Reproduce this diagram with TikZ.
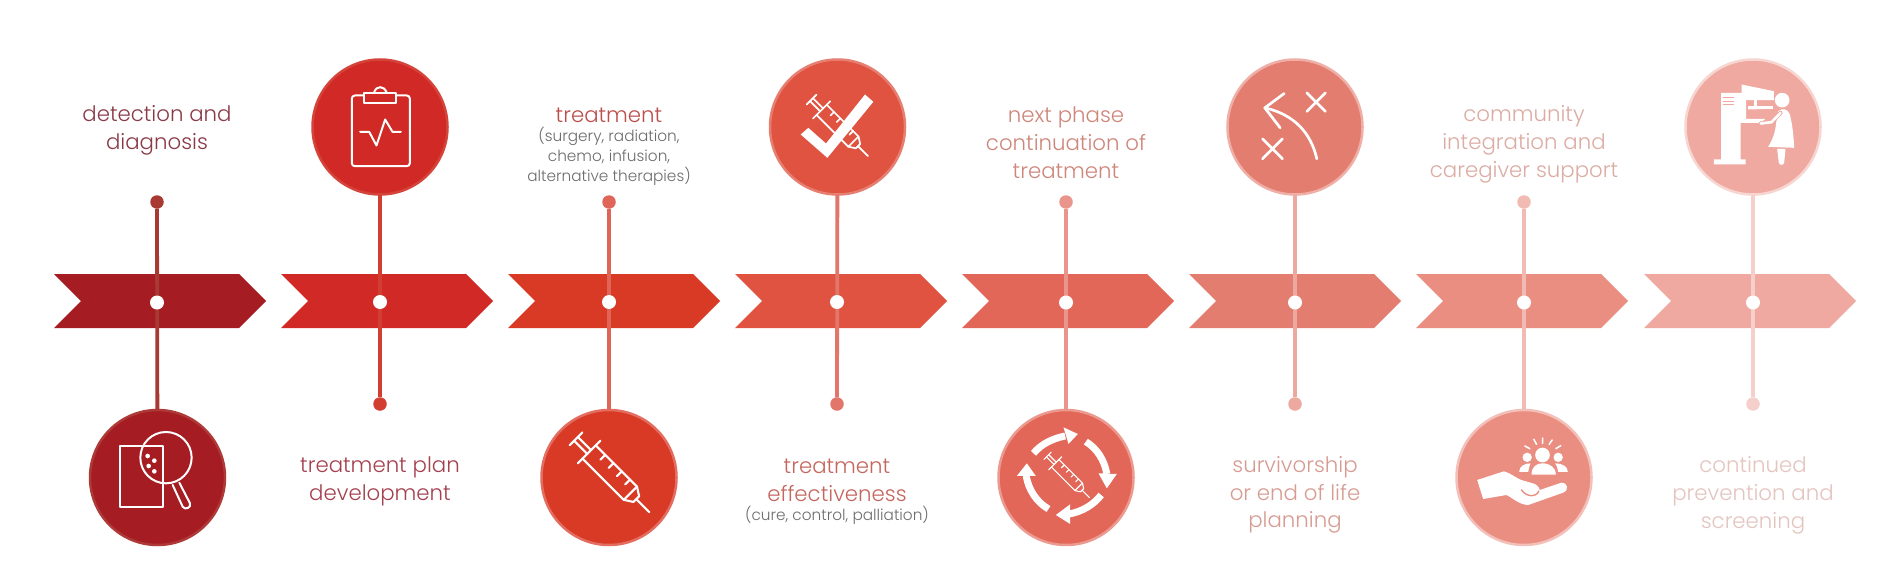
\documentclass[tikz,border=0pt]{standalone}
\usepackage{fontspec}
\setmainfont{Poppins}[UprightFont=* Light]
\definecolor{subgray}{HTML}{6C6C6C}
\definecolor{fillA}{HTML}{A51C22}\definecolor{ringA}{HTML}{AE3A38}\definecolor{lineA}{HTML}{A83A34}\definecolor{textA}{HTML}{8A3A47}
\definecolor{fillB}{HTML}{D12A26}\definecolor{ringB}{HTML}{D4443A}\definecolor{lineB}{HTML}{D23E32}\definecolor{textB}{HTML}{A5404E}
\definecolor{fillC}{HTML}{D83A26}\definecolor{ringC}{HTML}{E26D60}\definecolor{lineC}{HTML}{DE6558}\definecolor{textC}{HTML}{BC4E4B}
\definecolor{fillD}{HTML}{DF5340}\definecolor{ringD}{HTML}{E67F72}\definecolor{lineD}{HTML}{E2766A}\definecolor{textD}{HTML}{C5665E}
\definecolor{fillE}{HTML}{E26758}\definecolor{ringE}{HTML}{EC9A90}\definecolor{lineE}{HTML}{E9958B}\definecolor{textE}{HTML}{CE867A}
\definecolor{fillF}{HTML}{E37D70}\definecolor{ringF}{HTML}{EFAFA7}\definecolor{lineF}{HTML}{EDA89F}\definecolor{textF}{HTML}{D79B92}
\definecolor{fillG}{HTML}{EA8E82}\definecolor{ringG}{HTML}{F3C0B9}\definecolor{lineG}{HTML}{F1BAB3}\definecolor{textG}{HTML}{DCACA4}
\definecolor{fillH}{HTML}{EFA9A1}\definecolor{ringH}{HTML}{F7D5D1}\definecolor{lineH}{HTML}{F5CFCA}\definecolor{textH}{HTML}{E4C4BF}
\tikzset{x=1pt,y=-1pt,
  chevron/.style={fill=#1,draw=none},
  stem/.style={draw=#1,line width=3.8pt},
  enddot/.style={circle,fill=#1,draw=none,minimum size=13.5pt,inner sep=0pt,outer sep=0pt},
  hub/.style={circle,fill=white,draw=none,minimum size=14pt,inner sep=0pt,outer sep=0pt},
  disc/.style 2 args={circle,fill=#1,draw=#2,line width=2.5pt,minimum size=135pt,inner sep=0pt,outer sep=0pt},
  title/.style={text=#1,align=center,font=\fontsize{21.3}{27.8}\selectfont},
  subtitle/.style={text=subgray,align=center,font=\fontsize{15.3}{20}\selectfont},
  ico/.style={draw=white,line width=2pt,line cap=round,line join=round}}
% chevron: left x, colour
\newcommand{\Chev}[2]{%
  \fill[chevron=#2] (#1,274) -- ++(185,0) -- ++(27,27) -- ++(-27,27) -- ++(-185,0) -- ++(27,-27) -- cycle;}
% syringe: ox, oy, scale, line width
\newcommand{\Syr}[4]{%
  \begin{scope}[shift={(#1,#2)},rotate=-45,scale=#3,line width=#4,line cap=round,line join=round]
    \draw[white] (0,-48) -- (0,48);
    \draw[white] (0,-28) -- (175,-28) -- (200,-12) -- (200,12) -- (175,28) -- (0,28);
    \draw[white] (175,-28) -- (175,28);
    \draw[white] (200,0) -- (255,0);
    \draw[white] (-56,-8) -- (0,-8) (-56,8) -- (0,8) (-56,-27) -- (-56,27);
    \foreach \u in {40,75,110,145} \draw[white] (\u,-28) -- (\u,-8);
  \end{scope}}
\begin{document}
\begin{tikzpicture}
\useasboundingbox (0,0) rectangle (1900,575);
\fill[white] (0,0) rectangle (1900,575);
% ---------- chevrons
\Chev{54}{fillA}
\Chev{281}{fillB}
\Chev{508}{fillC}
\Chev{735}{fillD}
\Chev{962}{fillE}
\Chev{1189}{fillF}
\Chev{1416}{fillG}
\Chev{1644}{fillH}
% ---------- discs and end dots
\node[disc={fillA}{ringA}] (d1) at (157.5,477.5) {};
\node[disc={fillB}{ringB}] (d2) at (380,127) {};
\node[disc={fillC}{ringC}] (d3) at (609,477.5) {};
\node[disc={fillD}{ringD}] (d4) at (837.5,127) {};
\node[disc={fillE}{ringE}] (d5) at (1066,477.5) {};
\node[disc={fillF}{ringF}] (d6) at (1295,127) {};
\node[disc={fillG}{ringG}] (d7) at (1524,477.5) {};
\node[disc={fillH}{ringH}] (d8) at (1753,127) {};
\node[enddot=lineA] (e1) at (157,202) {};
\node[enddot=lineB] (e2) at (380,404) {};
\node[enddot=lineC] (e3) at (609,202) {};
\node[enddot=lineD] (e4) at (837,404) {};
\node[enddot=lineE] (e5) at (1066,202) {};
\node[enddot=lineF] (e6) at (1295,404) {};
\node[enddot=lineG] (e7) at (1524,202) {};
\node[enddot=lineH] (e8) at (1753,404) {};
% ---------- stems
\draw[stem=lineA] (e1) -- (d1);
\draw[stem=lineB] (e2) -- (d2);
\draw[stem=lineC] (e3) -- (d3);
\draw[stem=lineD] (e4) -- (d4);
\draw[stem=lineE] (e5) -- (d5);
\draw[stem=lineF] (e6) -- (d6);
\draw[stem=lineG] (e7) -- (d7);
\draw[stem=lineH] (e8) -- (d8);
% ---------- hubs
\node[hub] (h1) at (157,302.5) {};
\node[hub] (h2) at (380,302) {};
\node[hub] (h3) at (609,302) {};
\node[hub] (h4) at (837,302) {};
\node[hub] (h5) at (1066,302.5) {};
\node[hub] (h6) at (1295,302.5) {};
\node[hub] (h7) at (1524,302.5) {};
\node[hub] (h8) at (1753,302.5) {};
% ---------- labels
\node[title=textA] (t1) at (157,130) {detection and\\diagnosis};
\node[title=textB] (t2) at (380,481.5) {treatment plan\\development};
\node[title=textC] (t3) at (609,115) {treatment};
\node[subtitle] (s3) at (609,156.5) {(surgery, radiation,\\chemo, infusion,\\alternative therapies)};
\node[title=textD] (t4) at (837,480) {treatment\\effectiveness};
\node[subtitle] (s4) at (837,515) {(cure, control, palliation)};
\node[title=textE] (t5) at (1066,143) {next phase\\continuation of\\treatment};
\node[title=textF] (t6) at (1295,495) {survivorship\\or end of life\\planning};
\node[title=textG] (t7) at (1524,144.5) {community\\integration and\\caregiver support};
\node[title=textH] (t8) at (1753,495.5) {continued\\prevention and\\screening};
% ---------- icon 1: magnifier on a sheet
\begin{scope}[shift={(90,410)},x=0.3333pt,y=-0.3333pt]
  \draw[ico] (90,108) rectangle (220,292);
  \draw[ico] (228,143) circle[radius=77];
  \draw[ico] (248,225) -- (278,290) .. controls (284,302) and (306,292) .. (300,280) -- (268,218);
  \foreach \p/\q in {173/138,193/152,176/168,193/184} \fill[white] (\p,\q) circle[radius=7];
\end{scope}
% ---------- icon 2: clipboard
\begin{scope}[shift={(312.5,59.5)},x=0.3333pt,y=-0.3333pt]
  \draw[ico,rounded corners=3pt] (118,108) rectangle (292,320);
  \draw[ico,fill=fillB] (155,100) rectangle (252,130);
  \draw[ico] (185,98) .. controls (192,78) and (214,78) .. (222,98);
  \draw[ico] (143,217) -- (170,217) -- (192,258) -- (218,180) -- (240,217) -- (265,217);
\end{scope}
% ---------- icon 3: syringe
\begin{scope}[shift={(541.5,410)},x=0.3333pt,y=-0.3333pt]
  \Syr{143}{126}{1}{2.1pt}
\end{scope}
% ---------- icon 4: syringe and tick
\begin{scope}[shift={(770,59.5)},x=0.3333pt,y=-0.3333pt]
  \Syr{155}{151}{0.77}{1.7pt}
  \fill[white] (92,225) -- (115,205) -- (168,252) -- (285,105) -- (310,127) -- (172,295) -- cycle;
\end{scope}
% ---------- icon 5: syringe in a cycle of arrows
\begin{scope}[shift={(998.5,410)},x=0.3333pt,y=-0.3333pt]
  \Syr{170}{160}{0.57}{1.1pt}
  \draw[white,line width=7pt] (105,130) .. controls (130,100) and (165,85) .. (200,78);
  \draw[white,line width=7pt] (262,95) .. controls (295,115) and (318,150) .. (325,192);
  \draw[white,line width=7pt] (308,255) .. controls (285,285) and (250,305) .. (212,312);
  \draw[white,line width=7pt] (150,297) .. controls (115,277) and (90,240) .. (83,197);
  \fill[white] (195,52) -- (238,72) -- (210,102) -- cycle;
  \fill[white] (300,190) -- (355,192) -- (325,235) -- cycle;
  \fill[white] (215,283) -- (172,315) -- (215,342) -- cycle;
  \fill[white] (55,198) -- (85,160) -- (112,198) -- cycle;
\end{scope}
% ---------- icon 6: play diagram
\begin{scope}[shift={(1227.5,59.5)},x=0.3333pt,y=-0.3333pt]
  \draw[ico,line width=2.7pt] (268,298) .. controls (250,220) and (200,165) .. (112,145);
  \draw[ico,line width=2.7pt] (170,102) -- (112,145) -- (158,205);
  \draw[ico,line width=2.7pt] (238,156) -- (294,100) (238,100) -- (294,156);
  \draw[ico,line width=2.7pt] (105,298) -- (165,238) (105,238) -- (165,298);
\end{scope}
% ---------- icon 7: hand holding people
\begin{scope}[shift={(1456.5,410)},x=0.3333pt,y=-0.3333pt]
  \fill[white] (62,210) -- (142,184) .. controls (165,190) and (185,210) .. (205,213)
     -- (235,222) .. controls (245,228) and (250,235) .. (250,240)
     -- (315,218) .. controls (332,216) and (340,240) .. (320,248)
     -- (215,285) .. controls (190,285) and (165,262) .. (150,255) -- (80,267) -- cycle;
  \draw[draw=fillG,line width=1.4pt,line cap=round] (195,240) .. controls (210,262) and (240,262) .. (247,243);
  \fill[white] (258,135) circle[radius=22];
  \fill[white] (225,194) .. controls (225,170) and (240,160) .. (258,160) .. controls (280,160) and (298,172) .. (298,194) -- cycle;
  \fill[white] (212,142) circle[radius=14];
  \fill[white] (188,186) .. controls (188,168) and (205,160) .. (222,160) -- (218,172) -- (215,186) -- cycle;
  \fill[white] (305,142) circle[radius=14];
  \fill[white] (334,186) .. controls (334,168) and (315,160) .. (296,160) -- (302,172) -- (305,186) -- cycle;
  \draw[ico,line width=1.5pt] (205,108) -- (220,116) (232,88) -- (240,103) (258,84) -- (258,100) (287,90) -- (278,103) (313,107) -- (298,116);
\end{scope}
% ---------- icon 8: mammography machine
\begin{scope}[shift={(1685.5,59.5)},x=0.3333pt,y=-0.3333pt]
  \fill[white] (107,100) -- (168,100) -- (168,75) -- (265,95) -- (265,122) -- (182,122) -- (182,178) -- (240,178) -- (225,190) -- (165,190) -- (165,300) -- (180,300) -- (180,315) -- (85,315) -- (85,300) -- (107,300) -- cycle;
  \fill[white] (205,122) rectangle (213,140);
  \fill[white] (188,140) -- (262,140) -- (262,148) -- (188,150) -- cycle;
  \draw[draw=fillH,line width=0.8pt] (112,115) -- (145,115) (112,125) -- (145,125) (112,135) -- (145,135);
  \fill[white] (290,122) circle[radius=22];
  \fill[white] (278,155) .. controls (290,145) and (308,148) .. (313,165) .. controls (322,200) and (325,240) .. (326,265) -- (248,262) .. controls (262,240) and (270,215) .. (272,190) -- cycle;
  \draw[draw=fillH,line width=4.2pt,line cap=round] (285,160) -- (258,188) -- (226,192);
  \draw[draw=white,line width=2.6pt,line cap=round] (285,160) -- (258,188) -- (226,192);
  \fill[white] (275,268) -- (300,268) -- (296,310) .. controls (294,318) and (282,318) .. (280,310) -- cycle;
\end{scope}
\end{tikzpicture}
\end{document}
